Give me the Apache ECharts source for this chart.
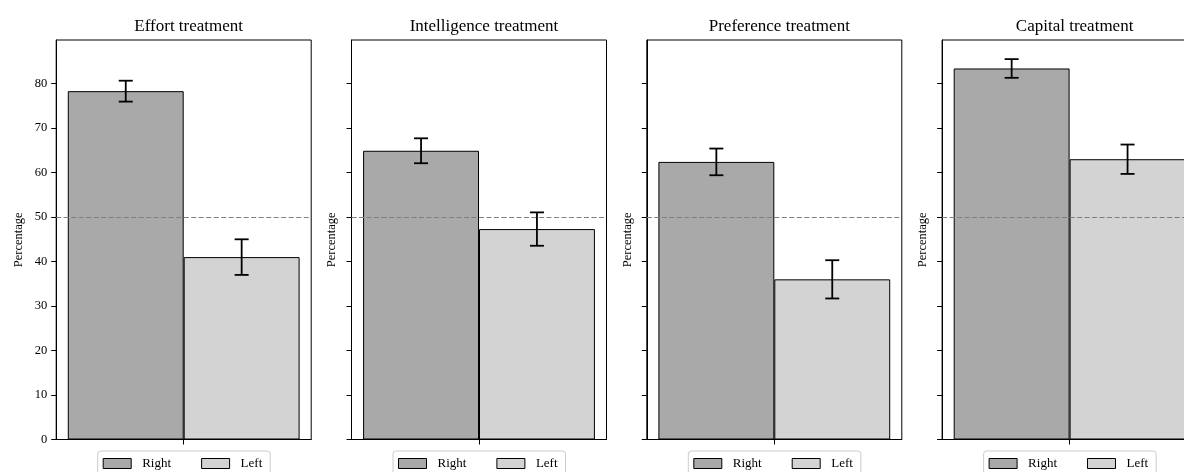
<!DOCTYPE html>
<html>
<head>
<meta charset="utf-8">
<script src="https://cdn.jsdelivr.net/npm/echarts@6/dist/echarts.min.js"></script>
<style>
html,body{margin:0;padding:0;background:#fff;}
#chart{width:1184px;height:472px;}
</style>
</head>
<body>
<div id="chart"></div>
<script>
// ---- data ----
const panelTitles = ['Effort treatment', 'Intelligence treatment', 'Preference treatment', 'Capital treatment'];
const seriesNames = ['Right', 'Left'];
const rightValues = [78.3, 64.9, 62.4, 83.4];
const rightErrors = [2.35, 2.8, 3.0, 2.1];
const leftValues = [41.0, 47.3, 36.0, 63.0];
const leftErrors = [4.0, 3.75, 4.3, 3.3];
const yTickValues = [0, 10, 20, 30, 40, 50, 60, 70, 80];
const referenceLevel = 50;
const categories = ['All'];
const yMax = 89.8;

// ---- layout ----
const FONT = '"Liberation Serif", "DejaVu Serif", serif';
const panelLefts = [56.2, 351.5, 646.8, 942.1];
const panelWidth = 255;
const gridTop = 40;
const gridHeight = 399.5;
const barFrac = 0.4 / 0.88;
const barColors = ['#a9a9a9', '#d3d3d3'];

const grids = [], xAxes = [], yAxes = [], series = [], titles = [], legends = [];

function errRender(offsetSign) {
  return function (params, api) {
    const v = api.value(1), e = api.value(2);
    const c = api.coord([api.value(0), v]);
    const hi = api.coord([api.value(0), v + e]);
    const lo = api.coord([api.value(0), v - e]);
    const band = api.size([1, 0])[0];
    const x = c[0] + offsetSign * (0.2 / 0.88) * band;
    const cap = 7;
    const style = { stroke: '#000', lineWidth: 1.8 };
    return {
      type: 'group',
      children: [
        { type: 'line', shape: { x1: x, y1: hi[1], x2: x, y2: lo[1] }, style: style },
        { type: 'line', shape: { x1: x - cap, y1: hi[1], x2: x + cap, y2: hi[1] }, style: style },
        { type: 'line', shape: { x1: x - cap, y1: lo[1], x2: x + cap, y2: lo[1] }, style: style }
      ]
    };
  };
}

panelTitles.forEach(function (t, i) {
  const left = panelLefts[i];
  grids.push({ left: left, top: gridTop, width: panelWidth, height: gridHeight,
    outerBoundsMode: 'none',
    show: true, borderColor: '#000', borderWidth: 1, backgroundColor: 'transparent', containLabel: false });
  titles.push({ text: t, left: left + panelWidth / 2, top: 13, textAlign: 'center',
    textStyle: { fontFamily: FONT, fontSize: 17, fontWeight: 'normal', color: '#000' } });
  xAxes.push({ gridIndex: i, type: 'category', data: categories,
    axisLine: { show: true, lineStyle: { color: '#000', width: 1 } },
    axisTick: { show: true, alignWithLabel: true, length: 5, lineStyle: { color: '#000', width: 1 } },
    axisLabel: { show: false }, splitLine: { show: false } });
  yAxes.push({ gridIndex: i, type: 'value', min: 0, max: yMax, interval: 10,
    axisLine: { show: true, lineStyle: { color: '#000', width: 1 } },
    axisTick: { show: true, length: 5, lineStyle: { color: '#000', width: 1 }, customValues: yTickValues },
    axisLabel: { show: i === 0, customValues: yTickValues, margin: 9, fontFamily: FONT, fontSize: 12.5, color: '#000' },
    splitLine: { show: false },
    name: 'Percentage', nameLocation: 'middle', nameGap: i === 0 ? 31 : 13,
    nameTextStyle: { fontFamily: FONT, fontSize: 12.5, color: '#000' } });

  series.push({ name: seriesNames[0], type: 'bar', xAxisIndex: i, yAxisIndex: i,
    data: [rightValues[i]], barWidth: (barFrac * 100) + '%', barGap: '0%',
    itemStyle: { color: barColors[0], borderColor: '#000', borderWidth: 1 }, silent: true, animation: false });
  series.push({ name: seriesNames[1], type: 'bar', xAxisIndex: i, yAxisIndex: i,
    data: [leftValues[i]], barWidth: (barFrac * 100) + '%', barGap: '0%',
    itemStyle: { color: barColors[1], borderColor: '#000', borderWidth: 1 }, silent: true, animation: false,
    markLine: { silent: true, symbol: 'none', z: 10, label: { show: false },
      lineStyle: { color: '#808080', type: [5, 2.5], width: 1 },
      data: [{ yAxis: referenceLevel }] } });
  series.push({ type: 'custom', xAxisIndex: i, yAxisIndex: i, z: 20, silent: true, animation: false,
    renderItem: errRender(-1), data: [[0, rightValues[i], rightErrors[i]]] });
  series.push({ type: 'custom', xAxisIndex: i, yAxisIndex: i, z: 20, silent: true, animation: false,
    renderItem: errRender(1), data: [[0, leftValues[i], leftErrors[i]]] });

  legends.push({ data: seriesNames.map(function (n) { return { name: n, icon: 'rect' }; }),
    left: left + panelWidth / 2 - 86, top: 451,
    orient: 'horizontal', itemWidth: 28, itemHeight: 10, itemGap: 30,
    padding: [6, 8, 6, 5], borderColor: '#cccccc', borderWidth: 1, borderRadius: 3,
    backgroundColor: '#fff', selectedMode: false,
    itemStyle: { borderColor: '#000', borderWidth: 1 },
    textStyle: { fontFamily: FONT, fontSize: 13, color: '#000', padding: [0, 0, 0, 6] } });
});

const chart = echarts.init(document.getElementById('chart'), null, { renderer: 'canvas' });
chart.setOption({
  animation: false,
  backgroundColor: '#fff',
  title: titles,
  legend: legends,
  grid: grids,
  xAxis: xAxes,
  yAxis: yAxes,
  series: series
});
</script>
</body>
</html>
